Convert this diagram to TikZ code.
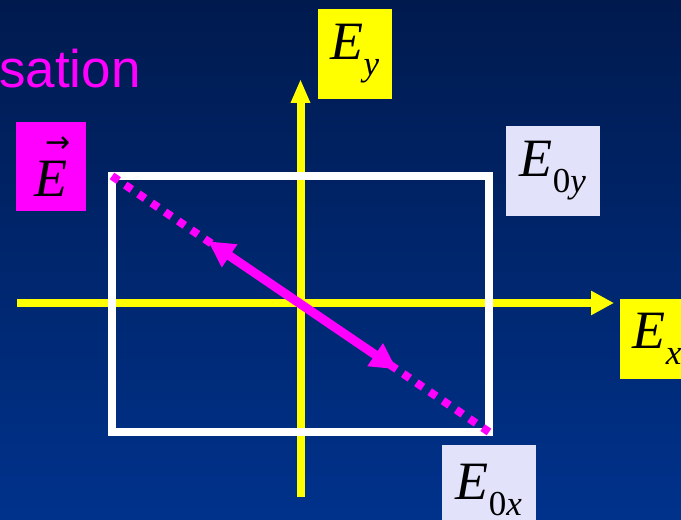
\documentclass[tikz,border=0pt]{standalone}
\usepackage{fontspec}
\setmainfont{Liberation Serif}
\newfontfamily\arialfont{Liberation Sans}
\newfontfamily\arrowfont{DejaVu Sans}
\usetikzlibrary{arrows.meta, calc}

\definecolor{bgtop}{RGB}{0,26,78}
\definecolor{bgbot}{RGB}{0,50,140}
\definecolor{lavbox}{RGB}{226,226,250}
\definecolor{pmag}{RGB}{255,0,255}
\definecolor{pyel}{RGB}{255,255,0}

\newcommand{\Elab}[1]{\textit{E}\raisebox{-16pt}{\fontsize{35}{35}\selectfont #1}}
\newcommand{\Evec}{\makebox[0pt][l]{\kern11pt\raisebox{44pt}{\arrowfont\fontsize{30}{30}\selectfont →}}\textit{E}}

\tikzset{
  lbl/.style={inner sep=0pt, text=black, font=\fontsize{54}{54}\selectfont},
  axis/.style={pyel, line width=8pt},
}

\begin{document}
\begin{tikzpicture}[x=1pt,y=1pt]
\useasboundingbox (0,0) rectangle (681,520);
\clip (0,0) rectangle (681,520);
\shade[top color=bgtop, bottom color=bgbot] (0,0) rectangle (681,520);
\coordinate (yb) at (300.5,23);
\coordinate (yt) at (300.5,441);
\coordinate (xl) at (17,217);
\coordinate (xr) at (614,217);
\coordinate (tl) at (112,344);
\coordinate (br) at (489,88);
\coordinate (p1) at ($(tl)!0.255!(br)$);
\coordinate (p2) at ($(tl)!0.755!(br)$);
\draw[axis, -{Triangle[length=24pt,width=18pt]}] (yb) -- (yt);
\draw[axis, -{Triangle[length=23pt,width=23pt]}] (xl) -- (xr);
\draw[white, line width=8pt] (tl) rectangle (br);
\draw[pmag, line width=8pt, dash pattern=on 8pt off 8pt] (tl) -- (br);
\draw[pmag, line width=9pt, {Triangle[length=26pt,width=26pt]}-{Triangle[length=26pt,width=26pt]}] (p1) -- (p2);
\node[lbl, fill=pyel, minimum width=74pt, minimum height=90pt] (ey) at (355,466) {\Elab{\textit{y}}};
\node[lbl, fill=lavbox, minimum width=94pt, minimum height=90pt] (e0y) at (553,349) {\Elab{0\textit{y}}};
\node[lbl, fill=pmag, minimum width=70pt, minimum height=89pt] (evec) at (51,353.5) {\Evec};
\node[lbl, fill=pyel, minimum width=74pt, minimum height=80pt, anchor=west] (ex) at (620,181) {\Elab{\textit{x}}};
\node[lbl, fill=lavbox, minimum width=94pt, minimum height=90pt] (e0x) at (489,30) {\Elab{0\textit{x}}};
\node[anchor=base west, inner sep=0pt, text=pmag, font=\arialfont\fontsize{53}{53}\selectfont] (title) at (-1,432) {sation};
\end{tikzpicture}
\end{document}
